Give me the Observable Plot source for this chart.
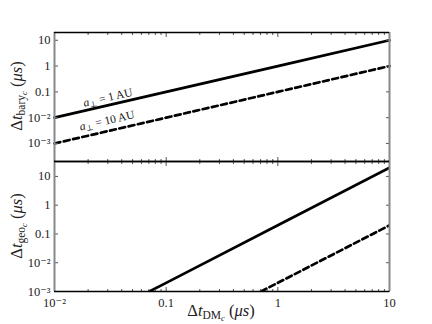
<!DOCTYPE html>
<html><head><meta charset="utf-8">
<script src="https://cdn.jsdelivr.net/npm/d3@7"></script>
<script src="https://cdn.jsdelivr.net/npm/@observablehq/plot@0.6"></script>
<style>
body{margin:0;background:#fff;}
#c{width:432px;height:324px;position:relative;}
#c svg{display:block;}
#c svg text{font-family:'Liberation Serif','DejaVu Serif',serif !important;}
#c g[aria-label$="tick label"] text{font-size:12.5px;fill:#222;}
#c g[aria-label="text"] text{font-size:11.5px;fill:#111;}
#c text.axlab{font-size:16.5px;fill:#222;}
#c text.axlab tspan.s1{font-size:11.5px;}
#c text.axlab tspan.s2{font-size:8.5px;}
</style></head><body><div id="c"></div>
<script>
// Data (log-log straight lines)
const baryX1 = [0.01, 0.1, 1, 10];
const baryY1 = [0.01, 0.1, 1, 10];        // a_perp = 1 AU
const baryX10 = [0.01, 0.1, 1, 10];
const baryY10 = [0.001, 0.01, 0.1, 1];    // a_perp = 10 AU
const geoX1 = [0.0707, 0.1, 1, 10];
const geoY1 = [0.001, 0.002, 0.2, 20];
const geoX10 = [0.707, 1, 10];
const geoY10 = [0.001, 0.002, 0.2];
const majorTicks = [0.001, 0.01, 0.1, 1, 10];
const xMajor = [0.01, 0.1, 1, 10];
const labelX = [0.03, 0.0295];
const labelY = [0.06, 0.0077];
const labelText = ["a⊥ = 1 AU", "a⊥ = 10 AU"];

const xMinor = [];
for (const d of [0.01, 0.1, 1]) for (let k = 2; k <= 9; k++) xMinor.push(+(d * k).toPrecision(3));
const sup = {"-": "⁻", "0":"⁰","1":"¹","2":"²","3":"³"};
const fmt = v => v === 10 ? "10" : v === 1 ? "1" : v === 0.1 ? "0.1" : "10" + String(Math.round(Math.log10(v))).split("").map(c => sup[c]).join("");
const pts = (xs, ys) => xs.map((x, i) => ({x, y: ys[i]}));
const labels = labelX.map((x, i) => ({x, y: labelY[i], t: labelText[i]}));

const font = "'Liberation Serif', 'DejaVu Serif', serif";
const tickStroke = "#555";
const spine = "#888";

function frameMarks(xd, yd) {
  return [
    Plot.ruleX([xd[0], xd[1]], {stroke: spine, strokeWidth: 2}),
    Plot.ruleY([yd[0], yd[1]], {stroke: "#000", strokeWidth: 1.5})
  ];
}
function xTicks(withLabels) {
  return [
    Plot.axisX({anchor: "top", ticks: xMajor, tickSize: -4, tickFormat: () => "", stroke: tickStroke, label: null}),
    Plot.axisX({anchor: "top", ticks: xMinor, tickSize: -2, tickFormat: () => "", stroke: tickStroke, label: null}),
    Plot.axisX({anchor: "bottom", ticks: xMajor, tickSize: -4, tickPadding: 11, tickFormat: withLabels ? fmt : () => "", stroke: tickStroke, label: null}),
    Plot.axisX({anchor: "bottom", ticks: xMinor, tickSize: -2, tickFormat: () => "", stroke: tickStroke, label: null})
  ];
}
function yTicks() {
  return [
    Plot.axisY({anchor: "left", ticks: majorTicks, tickSize: -4, tickPadding: 8, tickFormat: fmt, stroke: tickStroke, label: null}),
    Plot.axisY({anchor: "right", ticks: majorTicks, tickSize: -4, tickFormat: () => "", stroke: tickStroke, label: null})
  ];
}

const xd = [0.01, 10];
const yTop = [2e-4, 20];
const yBot = [1e-3, 33];

const topPlot = Plot.plot({
  width: 432, height: 161, marginTop: 32, marginBottom: 0, marginLeft: 54, marginRight: 43,
  style: {fontFamily: font, background: "transparent", overflow: "visible"},
  x: {type: "log", domain: xd},
  y: {type: "log", domain: yTop},
  marks: [
    Plot.line(pts(baryX1, baryY1), {x: "x", y: "y", stroke: "#000", strokeWidth: 2.7}),
    Plot.line(pts(baryX10, baryY10), {x: "x", y: "y", stroke: "#000", strokeWidth: 2.7, strokeDasharray: "6,3.5"}),
    Plot.text(labels, {x: "x", y: "y", text: "t", rotate: -13, textAnchor: "middle"}),
    ...xTicks(false),
    ...yTicks(),
    ...frameMarks(xd, yTop)
  ]
});
const botPlot = Plot.plot({
  width: 432, height: 163, marginTop: 0, marginBottom: 33, marginLeft: 54, marginRight: 43,
  style: {fontFamily: font, background: "transparent", overflow: "visible"},
  x: {type: "log", domain: xd},
  y: {type: "log", domain: yBot},
  marks: [
    Plot.line(pts(geoX1, geoY1), {x: "x", y: "y", stroke: "#000", strokeWidth: 2.7, clip: true}),
    Plot.line(pts(geoX10, geoY10), {x: "x", y: "y", stroke: "#000", strokeWidth: 2.7, strokeDasharray: "6,3.5", clip: true}),
    ...xTicks(true),
    ...yTicks(),
    ...frameMarks(xd, yBot)
  ]
});
const c = document.getElementById("c");
c.appendChild(topPlot);
c.appendChild(botPlot);

function addLabel(svg, x, y, rot, sub, subsub) {
  const t = d3.select(svg).append("text").attr("class", "axlab")
    .attr("transform", `translate(${x},${y}) rotate(${rot})`)
    .attr("text-anchor", "middle");
  t.append("tspan").text("Δ");
  t.append("tspan").attr("font-style", "italic").text("t");
  t.append("tspan").attr("class", "s1").attr("dy", 3).text(sub);
  t.append("tspan").attr("class", "s2").attr("font-style", "italic").attr("dy", 1.5).text(subsub);
  t.append("tspan").attr("dy", -4.5).text(" (");
  t.append("tspan").attr("font-style", "italic").text("μs");
  t.append("tspan").text(")");
}
addLabel(topPlot, 22, 96, -90, "bary", "c");
addLabel(botPlot, 22, 65, -90, "geo", "c");
addLabel(botPlot, 221, 155, 0, "DM", "c");

// italic a with subscript perp in annotations
d3.select(topPlot).selectAll("text").filter(function(){ return this.textContent.startsWith("a⊥"); }).each(function(){
  const s = this.textContent.slice(2);
  const el = d3.select(this); el.text("");
  el.append("tspan").attr("font-style", "italic").text("a");
  el.append("tspan").style("font-size", "8px").attr("dy", 2).text("⊥");
  el.append("tspan").attr("dy", -2).text(s);
});
</script></body></html>
